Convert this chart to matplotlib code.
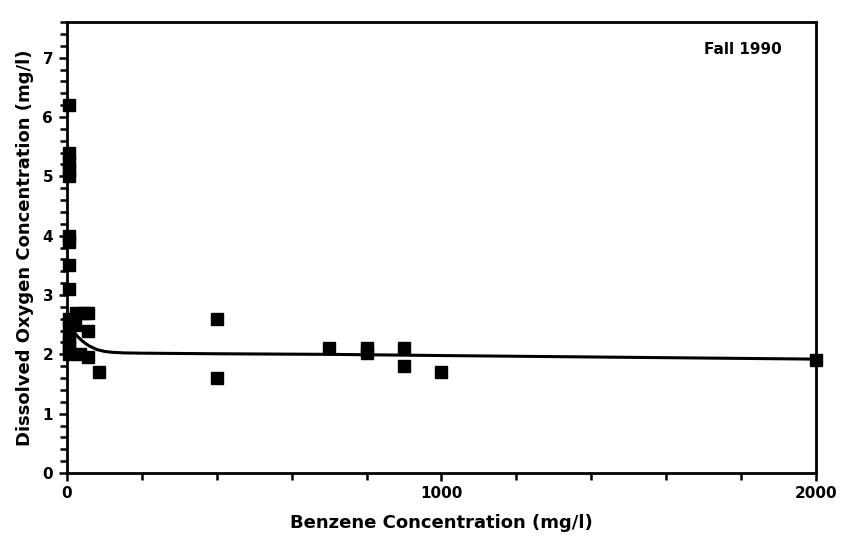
import matplotlib
matplotlib.use("Agg")
import matplotlib.pyplot as plt
from matplotlib.ticker import MultipleLocator, FixedLocator


# -----------------------------
# Data
# -----------------------------

benzene = [5, 5, 5, 5, 5, 5, 5, 5, 5, 5, 5, 5, 5, 5, 5,
           25, 45, 55, 20, 55, 35, 55, 85,
           400, 400, 700, 800, 800, 900, 900, 1000, 2000]

oxygen = [6.2, 5.4, 5.25, 5.1, 5.0, 4.0, 3.9, 3.5, 3.1, 2.6, 2.45, 2.3, 2.2, 2.1, 2.0,
          2.7, 2.7, 2.7, 2.5, 2.4, 2.0, 1.95, 1.7,
          2.6, 1.6, 2.1, 2.1, 2.02, 2.1, 1.8, 1.7, 1.9]

# fitted curve, read point by point
fit_x = [12, 20, 30, 40, 50, 60, 70, 80, 100, 120, 150, 200, 400, 700, 1000, 1500, 2000]
fit_y = [2.42, 2.36, 2.29, 2.23, 2.18, 2.14, 2.11, 2.08, 2.05, 2.035, 2.025, 2.02, 2.01, 2.0, 1.98, 1.95, 1.92]

season_label = "Fall 1990"


# -----------------------------
# Plot
# -----------------------------

plt.rcParams["font.family"] = ["DejaVu Sans"]
plt.rcParams["font.weight"] = "bold"

fig = plt.figure(figsize=(8.41, 5.39), dpi=100)
ax = fig.add_axes([0.0797, 0.1224, 0.8903, 0.8366])

ax.plot(fit_x, fit_y, color="black", linewidth=2.2, zorder=2)

ax.plot(
    benzene,
    oxygen,
    linestyle="none",
    marker="s",
    markersize=9,
    color="black",
    clip_on=False,
    zorder=3
)

ax.set_xlim(0, 2000)
ax.set_ylim(0, 7.6)

ax.xaxis.set_major_locator(FixedLocator([0, 1000, 2000]))
ax.xaxis.set_minor_locator(MultipleLocator(200))
ax.yaxis.set_major_locator(MultipleLocator(1))
ax.yaxis.set_minor_locator(MultipleLocator(0.2))

ax.tick_params(axis="both", which="both", direction="out", width=1.8,
               labelsize=11, color="black")
ax.tick_params(axis="both", which="major", length=6)
ax.tick_params(axis="both", which="minor", length=5)
ax.tick_params(axis="x", pad=3)
ax.tick_params(axis="y", pad=4)

for label in ax.get_xticklabels() + ax.get_yticklabels():
    label.set_fontweight("bold")

for spine in ax.spines.values():
    spine.set_linewidth(2.0)

ax.set_xlabel("Benzene Concentration (mg/l)", fontsize=13, fontweight="bold", labelpad=10)
ax.set_ylabel("Dissolved Oxygen Concentration (mg/l)", fontsize=13, fontweight="bold", labelpad=6)

ax.text(0.955, 0.94, season_label, transform=ax.transAxes, ha="right", va="center",
        fontsize=11, fontweight="bold")

fig.savefig("out.png", dpi=100)
